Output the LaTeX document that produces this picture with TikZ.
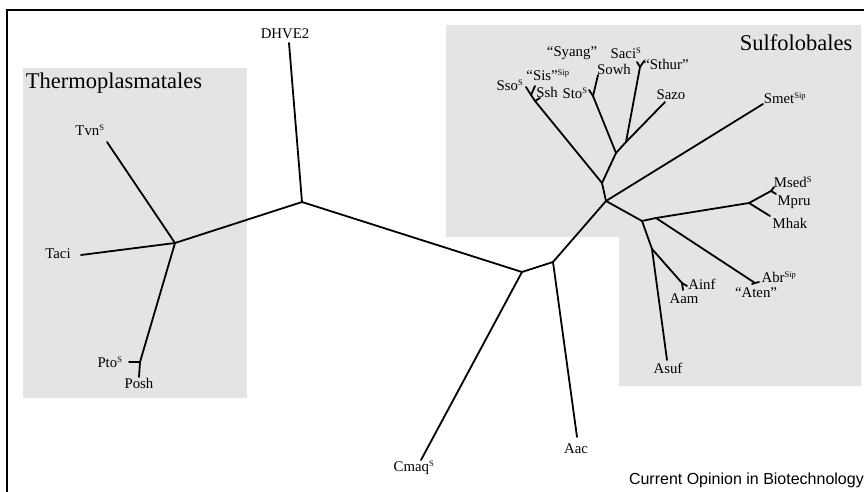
\documentclass[tikz,border=0pt]{standalone}
\usepackage{fontspec}
\setmainfont{Liberation Serif}
\newfontfamily\creditfont{Liberation Sans}
\definecolor{boxgray}{HTML}{E4E4E4}
\newcommand{\supx}[1]{\textsuperscript{\fontsize{8.5}{9}\selectfont #1}}

\begin{document}
\begin{tikzpicture}[x=1pt,y=-1pt,
	branch/.style={line width=1.8pt, line cap=round, line join=round},
	taxon/.style={inner sep=0pt, font=\fontsize{14.8}{16}\selectfont},
	group/.style={inner sep=0pt, font=\fontsize{22.5}{24}\selectfont}]
	\useasboundingbox (0,0) rectangle (864,492);
	\fill[boxgray] (23,68) rectangle (247,398);
	\fill[boxgray] (446,25) -- (861,25) -- (861,386) -- (619,386) -- (619,237) -- (446,237) -- cycle;
	\draw[line width=2pt] (7,492) -- (7,10) -- (864,10);
	\node[group] (thermo) at (114,83) {Thermoplasmatales};
	\node[group] (sulfo) at (796,43) {Sulfolobales};
	\coordinate (n0) at (302,202);
	\coordinate (nT) at (175,243);
	\coordinate (nP) at (140,362);
	\coordinate (nC) at (522,272);
	\coordinate (nA) at (553,262);
	\coordinate (nS0) at (606,201);
	\coordinate (nS1) at (602,183);
	\coordinate (nS2) at (616,153);
	\coordinate (nS3) at (626,142);
	\coordinate (nSsh) at (535,101);
	\coordinate (nSso) at (531,95);
	\coordinate (nSto) at (593,96);
	\coordinate (nSaci) at (640,67);
	\coordinate (nM0) at (642,221);
	\coordinate (nM1) at (656,218);
	\coordinate (nMet) at (749,203);
	\coordinate (nMsed) at (771,191);
	\coordinate (nAbr) at (755,283);
	\coordinate (nAc) at (652,249);
	\coordinate (nAinf) at (682,283);
	\coordinate (tDHVE) at (289,43);
	\coordinate (tTvn) at (107,142);
	\coordinate (tTaci) at (81,255);
	\coordinate (tPto) at (129,362);
	\coordinate (tPosh) at (139,377);
	\coordinate (tCmaq) at (421,460);
	\coordinate (tAac) at (577,437);
	\coordinate (tSso) at (526,87);
	\coordinate (tSis) at (535,86);
	\coordinate (tSsh) at (540,98);
	\coordinate (tSto) at (589,90);
	\coordinate (tSowh) at (598,75);
	\coordinate (tSaci) at (637,62);
	\coordinate (tSthur) at (644,61);
	\coordinate (tSazo) at (665,102);
	\coordinate (tSmet) at (763,104);
	\coordinate (tMsed) at (774,187);
	\coordinate (tMpru) at (776,194);
	\coordinate (tMhak) at (770,216);
	\coordinate (tAbr) at (759,282);
	\coordinate (tAten) at (752,284);
	\coordinate (tAsuf) at (667,360);
	\coordinate (tAinf) at (687,286);
	\coordinate (tAam) at (683,290);
	\node[taxon] (DHVE) at (285,34) {DHVE2};
	\node[taxon] (Tvn) at (90,130) {Tvn\supx{S}};
	\node[taxon] (Taci) at (58,254) {Taci};
	\node[taxon] (Pto) at (110,362) {Pto\supx{S}};
	\node[taxon] (Posh) at (139,383) {Posh};
	\node[taxon] (Cmaq) at (414,468) {Cmaq\supx{S}};
	\node[taxon] (Aac) at (576,449) {Aac};
	\node[taxon] (Sso) at (510,85) {Sso\supx{S}};
	\node[taxon] (Sis) at (548,75) {“Sis”\supx{Sip}};
	\node[taxon] (Ssh) at (547,92) {Ssh};
	\node[taxon] (Sto) at (575,93) {Sto\supx{S}};
	\node[taxon] (Sowh) at (614,69) {Sowh};
	\node[taxon] (Syang) at (572,53) {“Syang”};
	\node[taxon] (Saci) at (626,53) {Saci\supx{S}};
	\node[taxon] (Sthur) at (666,64) {“Sthur”};
	\node[taxon] (Sazo) at (671,95) {Sazo};
	\node[taxon] (Smet) at (785,98) {Smet\supx{Sip}};
	\node[taxon] (Msed) at (793,182) {Msed\supx{S}};
	\node[taxon] (Mpru) at (794,202) {Mpru};
	\node[taxon] (Mhak) at (790,223) {Mhak};
	\node[taxon] (Abr) at (779,277) {Abr\supx{Sip}};
	\node[taxon] (Aten) at (756,293) {“Aten”};
	\node[taxon] (Ainf) at (702,284) {Ainf};
	\node[taxon] (Aam) at (684,299) {Aam};
	\node[taxon] (Asuf) at (668,368) {Asuf};
	\node[inner sep=0pt, anchor=base east, font=\creditfont\fontsize{16}{18}\selectfont] (credit) at (864,484) {Current Opinion in Biotechnology};
	\foreach \a/\b in {n0/tDHVE, n0/nT, n0/nC, nT/tTvn, nT/tTaci, nT/nP, nP/tPto, nP/tPosh,
		nC/tCmaq, nC/nA, nA/tAac, nA/nS0, nS0/nS1, nS0/tSmet, nS0/nM0,
		nS1/nSsh, nSsh/nSso, nSsh/tSsh, nSso/tSso, nSso/tSis, nS1/nS2,
		nS2/nSto, nS2/nS3, nSto/tSto, nSto/tSowh, nS3/nSaci, nS3/tSazo,
		nSaci/tSaci, nSaci/tSthur, nM0/nM1, nM0/nAc, nM1/nMet, nM1/nAbr,
		nMet/nMsed, nMet/tMhak, nMsed/tMsed, nMsed/tMpru, nAbr/tAbr, nAbr/tAten,
		nAc/tAsuf, nAc/nAinf, nAinf/tAinf, nAinf/tAam}
	{
		\draw[branch] (\a) -- (\b);
	}
\end{tikzpicture}
\end{document}
